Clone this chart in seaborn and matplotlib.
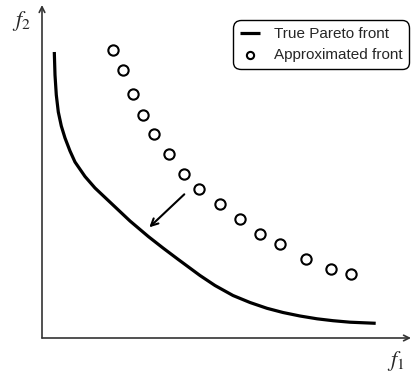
import matplotlib
matplotlib.use("Agg")
import matplotlib.pyplot as plt
import seaborn as sns
import pandas as pd

sns.set_style("white")
plt.rcParams['font.family'] = ['Liberation Sans', 'DejaVu Sans']
plt.rcParams['mathtext.fontset'] = 'stix'

# True Pareto front (units: offset from origin)
true_f1 = [12.3, 13, 14.3, 16.3, 19.3, 23, 28, 33, 43, 53, 70.5, 88, 106.3, 121,
           136.3, 158, 173, 191, 208, 225, 241, 258, 275, 291, 308, 333.7]
true_f2 = [286, 263, 243, 226, 212, 200, 187, 176, 161.5, 150, 133.5, 117, 101.5,
           90, 78.5, 62.5, 52.5, 42.5, 35.5, 29.7, 25.5, 22, 19.2, 17.3, 15.8, 14.7]

# Approximated front
approx_f1 = [70.7, 80.7, 91.3, 101.3, 111.7, 126.7, 142, 157.3, 177.5, 197.5, 218,
             238.3, 263.7, 289, 309.3]
approx_f2 = [288, 268, 243.7, 223, 203.7, 183.7, 163.7, 148.7, 134, 118.8, 104,
             94.3, 79, 69, 64]

labels = ["True Pareto front", "Approximated front"]

W, H = 411, 375
fig = plt.figure(figsize=(W / 100, H / 100), dpi=100)
ax = fig.add_axes([42 / W, 37 / H, 369 / W, 333 / H])
ax.set_xlim(0, 369)
ax.set_ylim(0, 333)

df_true = pd.DataFrame({"f1": true_f1, "f2": true_f2})
df_app = pd.DataFrame({"f1": approx_f1, "f2": approx_f2})

sns.lineplot(data=df_true, x="f1", y="f2", sort=False, color="black",
             lw=2.3, ax=ax, label=labels[0])
for ln in ax.lines:
    ln.set_solid_joinstyle("round")
    ln.set_solid_capstyle("butt")
sns.scatterplot(data=df_app, x="f1", y="f2", marker="o", s=55, facecolor="white",
                edgecolor="black", linewidth=1.5, ax=ax, label=labels[1], zorder=3)

for s in ax.spines.values():
    s.set_visible(False)
ax.set_xticks([])
ax.set_yticks([])
ax.set_xlabel("")
ax.set_ylabel("")

axis_col = "#333333"
ax.annotate("", xy=(0, 1), xytext=(0, 0), xycoords="axes fraction",
            arrowprops=dict(arrowstyle="->", color=axis_col, lw=1.2,
                            shrinkA=0, shrinkB=0), annotation_clip=False)
ax.annotate("", xy=(1.0, 0), xytext=(0, 0), xycoords="axes fraction",
            arrowprops=dict(arrowstyle="->", color=axis_col, lw=1.2,
                            shrinkA=0, shrinkB=0), annotation_clip=False)

# direction arrow
ax.annotate("", xy=(107.3, 110.7), xytext=(142.3, 143.7),
            arrowprops=dict(arrowstyle="->,head_length=0.5,head_width=0.25",
                            color="black", lw=1.5, shrinkA=0, shrinkB=0))

fig.text(21 / W, 1 - 21 / H, r"$f_2$", fontsize=16, ha="center", va="center")
fig.text(396 / W, 1 - 361 / H, r"$f_1$", fontsize=16, ha="center", va="center")

leg = ax.legend(loc="upper right", bbox_to_anchor=(0.995, 0.955), borderaxespad=0,
                fontsize=11, frameon=True, fancybox=True, edgecolor="black",
                handlelength=1.3, handletextpad=0.9, labelspacing=0.5,
                markerscale=0.7, borderpad=0.45)
leg.get_frame().set_linewidth(1.0)
leg.get_frame().set_alpha(1)
leg.get_frame().set_boxstyle("round,pad=0,rounding_size=0.5")

fig.savefig("out.png", dpi=100)
